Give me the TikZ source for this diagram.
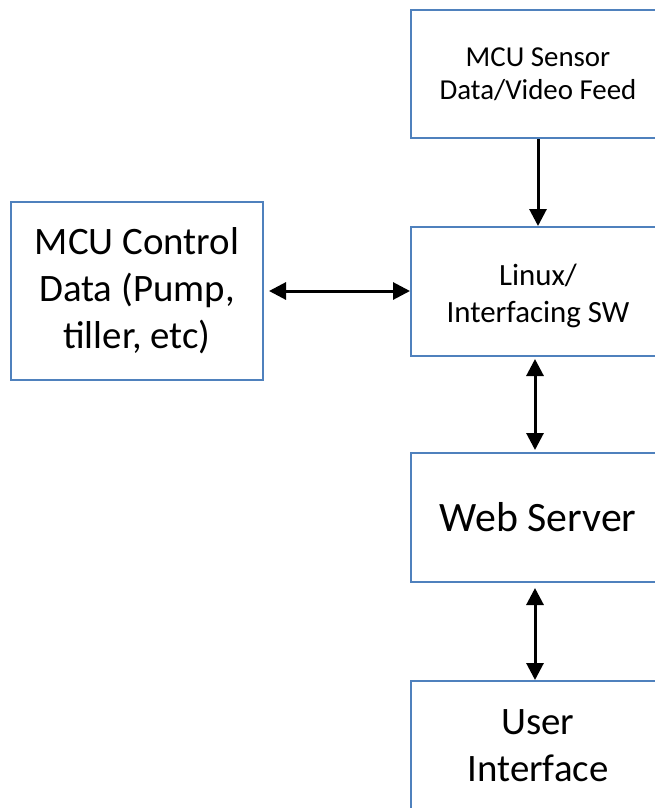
\documentclass[tikz,border=0pt]{standalone}
\usepackage{fontspec}
\setmainfont{Carlito}
\usetikzlibrary{arrows.meta}
\definecolor{boxblue}{HTML}{4F81BD}
\tikzset{
  blk/.style={draw=boxblue, line width=2bp, fill=white, align=center, inner sep=0pt},
  small/.style={font=\fontsize{29}{33}\selectfont},
  mid/.style={font=\fontsize{31}{37}\selectfont},
  large/.style={font=\fontsize{39}{47}\selectfont},
  larger/.style={font=\fontsize{42}{50}\selectfont},
  conn/.style={line width=3bp, draw=black, -{Triangle[length=17bp,width=17bp]}},
  bconn/.style={line width=3bp, draw=black, {Triangle[length=17bp,width=17bp]}-{Triangle[length=17bp,width=17bp]}}
}
\begin{document}
\begin{tikzpicture}[x=1bp,y=-1bp]
\useasboundingbox (0,0) rectangle (655,808);
\clip (0,0) rectangle (655,808);
\node[blk, small, minimum width=254bp, minimum height=128bp] (sensor) at (538,74) {MCU Sensor\\Data/Video Feed};
\node[blk, minimum width=254bp, minimum height=129bp,
      label={[mid, align=center, yshift=-4bp]center:{Linux/\\Interfacing SW}}] (linux) at (538,291.5) {};
\node[blk, larger, minimum width=254bp, minimum height=129bp] (web) at (538,517.5) {Web Server};
\node[blk, large, minimum width=254bp, minimum height=129bp] (ui) at (538,745.5) {User\\Interface};
\node[blk, large, minimum width=252bp, minimum height=178bp] (ctrl) at (137,291) {MCU Control\\Data (Pump,\\tiller, etc)};
\draw[conn] (sensor.south) -- (linux.north);
\draw[bconn, shorten <=2bp, shorten >=2bp] ([xshift=-3bp]linux.south) -- ([xshift=-3bp]web.north);
\draw[bconn, shorten <=5bp] ([xshift=-3bp]web.south) -- ([xshift=-3bp]ui.north);
\draw[bconn, shorten <=5bp] (ctrl.east) -- (ctrl.east -| linux.west);
\end{tikzpicture}
\end{document}
